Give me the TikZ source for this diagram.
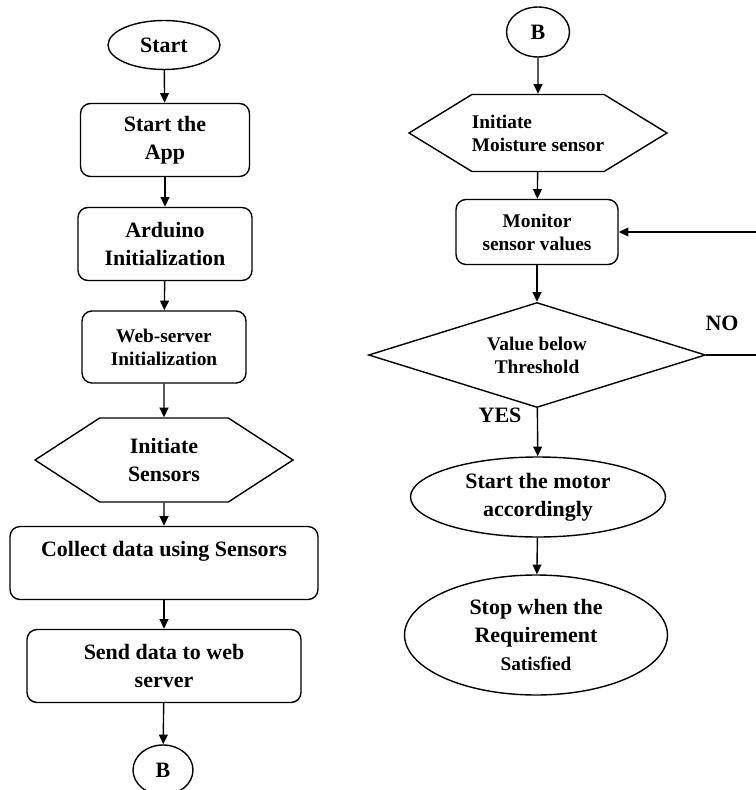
\documentclass[tikz,border=0pt]{standalone}
\usepackage{fontspec}
\setmainfont{Liberation Serif}
\usepackage{tikz}
\usetikzlibrary{shapes.geometric}
\usetikzlibrary{shapes.symbols}
\usetikzlibrary{arrows.meta}

\tikzset{
  bigtxt/.style = {font=\bfseries\fontsize{12.5}{16}\selectfont},
  smalltxt/.style = {font=\bfseries\fontsize{11}{13}\selectfont},
  procbox/.style = {draw, rounded corners=.2cm, align=center, bigtxt},
  termnode/.style = {draw, ellipse, align=center, inner sep=0pt, bigtxt},
  hexnode/.style = {draw, signal, signal to=west and east, inner sep=0pt, bigtxt},
  decnode/.style = {draw, diamond, aspect=3.2, inner sep=0pt, align=center, bigtxt},
  conn/.style = {->, line width=.8pt}
}

\begin{document}
\begin{tikzpicture}[x=0.02cm, y=-0.02cm, line width=.8pt, >={Triangle[length=5.5pt, width=5pt]}]
  \useasboundingbox (0,0) rectangle (756,790);

  % left column
  \node[termnode, minimum width=2.24cm, minimum height=.98cm] (start) at (164,45) {Start};
  \node[procbox, minimum width=3.38cm, minimum height=1.46cm] (app) at (165,140) {Start the\\App};
  \node[procbox, minimum width=3.48cm, minimum height=1.46cm] (arduino) at (165,244) {Arduino\\Initialization};
  \node[procbox, smalltxt, minimum width=3.28cm, minimum height=1.44cm] (websrv) at (164,347) {Web-server\\Initialization};
  \node[hexnode, align=center, minimum width=5.16cm, minimum height=1.68cm, signal pointer angle=66] (sensors) at (164,460) {Initiate\\Sensors};
  \node[procbox, minimum width=6.16cm, minimum height=1.46cm] (collect) at (164,563) {Collect data using Sensors\\ \mbox{}};
  \node[procbox, minimum width=5.48cm, minimum height=1.46cm] (send) at (164,666) {Send data to web\\server};
  \node[termnode, minimum width=1.2cm, minimum height=1cm] (bleft) at (163,770) {B};

  \draw[conn] (start) -- (app);
  \draw[conn] (app) -- (arduino);
  \draw[conn] (arduino) -- (websrv);
  \draw[conn] (websrv) -- (sensors);
  \draw[conn] (sensors) -- (collect);
  \draw[conn] (collect) -- (send);
  \draw[conn] (send) -- (bleft);

  % right column
  \node[termnode, minimum width=1.26cm, minimum height=1cm] (bright) at (538,32) {B};
  \node[hexnode, smalltxt, align=left, minimum width=4.94cm, minimum height=1.54cm, signal pointer angle=63] (moist) at (538,133) {Initiate\\Moisture sensor};
  \node[procbox, smalltxt, minimum width=3.24cm, minimum height=1.3cm] (monitor) at (537,232) {Monitor\\sensor values};
  \node[decnode, smalltxt, minimum width=6.74cm, minimum height=2.1cm] (thresh) at (537,355) {Value below\\Threshold};
  \node[termnode, minimum width=5.1cm, minimum height=1.6cm] (motor) at (538,497) {Start the motor\\accordingly};
  \node[termnode, minimum width=5.26cm, minimum height=2.4cm] (stop) at (536,635) {Stop when the\\Requirement\\{\fontsize{11}{13}\selectfont Satisfied}};
  \coordinate (loop) at (760,355);

  \draw[conn] (bright) -- (moist);
  \draw[conn] (moist) -- (monitor);
  \draw[conn] (monitor) -- (thresh);
  \draw[conn] (thresh) -- (motor);
  \draw[conn] (motor) -- (stop);
  \draw[conn] (thresh.east) -- (loop) |- (monitor.east);

  \node[bigtxt] (yes) at (500,415) {YES};
  \node[bigtxt] (no) at (722,323) {NO};
\end{tikzpicture}
\end{document}
